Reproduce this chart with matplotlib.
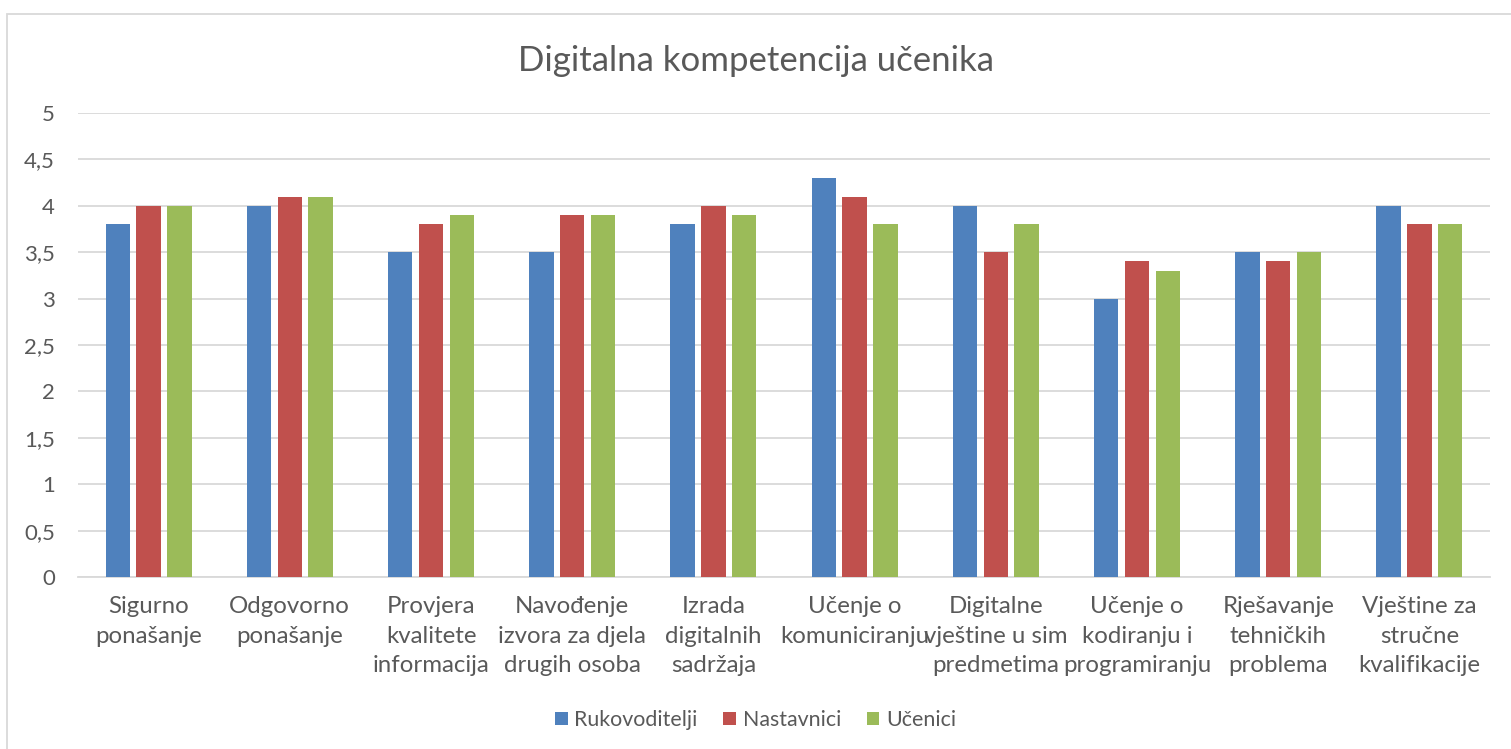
import matplotlib
matplotlib.use("Agg")
import matplotlib.pyplot as plt
from matplotlib.patches import Rectangle
from matplotlib.ticker import FuncFormatter
import numpy as np

plt.rcParams['font.family'] = ['Lato', 'DejaVu Sans']

# Data
categories = [
    "Sigurno\nponašanje",
    "Odgovorno\nponašanje",
    "Provjera\nkvalitete\ninformacija",
    "Navođenje\nizvora za djela\ndrugih osoba",
    "Izrada\ndigitalnih\nsadržaja",
    "Učenje o\nkomuniciranju",
    "Digitalne\nvještine u sim\npredmetima",
    "Učenje o\nkodiranju i\nprogramiranju",
    "Rješavanje\ntehničkih\nproblema",
    "Vještine za\nstručne\nkvalifikacije",
]
series_names = ["Rukovoditelji", "Nastavnici", "Učenici"]
rukovoditelji = [3.8, 4.0, 3.5, 3.5, 3.8, 4.3, 4.0, 3.0, 3.5, 4.0]
nastavnici = [4.0, 4.1, 3.8, 3.9, 4.0, 4.1, 3.5, 3.4, 3.4, 3.8]
ucenici = [4.0, 4.1, 3.9, 3.9, 3.9, 3.8, 3.8, 3.3, 3.5, 3.8]

colors = ["#4F81BD", "#C0504D", "#9BBB59"]
text_col = "#595959"
grid_col = "#D9D9D9"

W, H = 1511, 749
fig = plt.figure(figsize=(W / 100, H / 100), dpi=100)
ax = fig.add_axes([78 / W, 1 - 577 / H, (1490 - 78) / W, (577 - 113) / H])

x = np.arange(len(categories))
bw = 0.172
step = 0.218
for i, (vals, name) in enumerate(zip([rukovoditelji, nastavnici, ucenici], series_names)):
    ax.bar(x + (i - 1) * step, vals, width=bw, color=colors[i], label=name, zorder=3)

ax.set_xlim(-0.5, len(categories) - 0.5)
ax.set_ylim(0, 5)
ax.set_yticks(np.arange(0, 5.01, 0.5))
ax.yaxis.set_major_formatter(FuncFormatter(lambda v, p: f"{v:g}".replace(".", ",")))
ax.grid(axis="y", color=grid_col, linewidth=1.3, zorder=0)
for s in ["top", "right", "left"]:
    ax.spines[s].set_visible(False)
ax.spines["bottom"].set_color(grid_col)
ax.spines["bottom"].set_linewidth(1.3)
ax.tick_params(axis="both", length=0, colors=text_col)
ax.tick_params(axis="y", labelsize=16, pad=16.5)
ax.set_xticks(x)
ax.set_xticklabels(categories, fontsize=17.3, color=text_col, linespacing=1.5)
ax.tick_params(axis="x", pad=14)

fig.text(0.5, 1 - 61 / H, "Digitalna kompetencija učenika", ha="center", va="center",
         fontsize=25, color=text_col)

leg = fig.legend(loc="center", bbox_to_anchor=(0.5, 1 - 720 / H), ncol=3, frameon=False,
                 fontsize=15.4, handlelength=0.6, handleheight=0.6, handletextpad=0.3,
                 columnspacing=1.2)
for t in leg.get_texts():
    t.set_color(text_col)

fig.patches.append(Rectangle((7 / W, -0.1), 1.2, (1 - 14 / H) + 0.1, transform=fig.transFigure,
                             fill=False, edgecolor=grid_col, linewidth=1.3))

fig.savefig("out.png", dpi=100, facecolor="white")
